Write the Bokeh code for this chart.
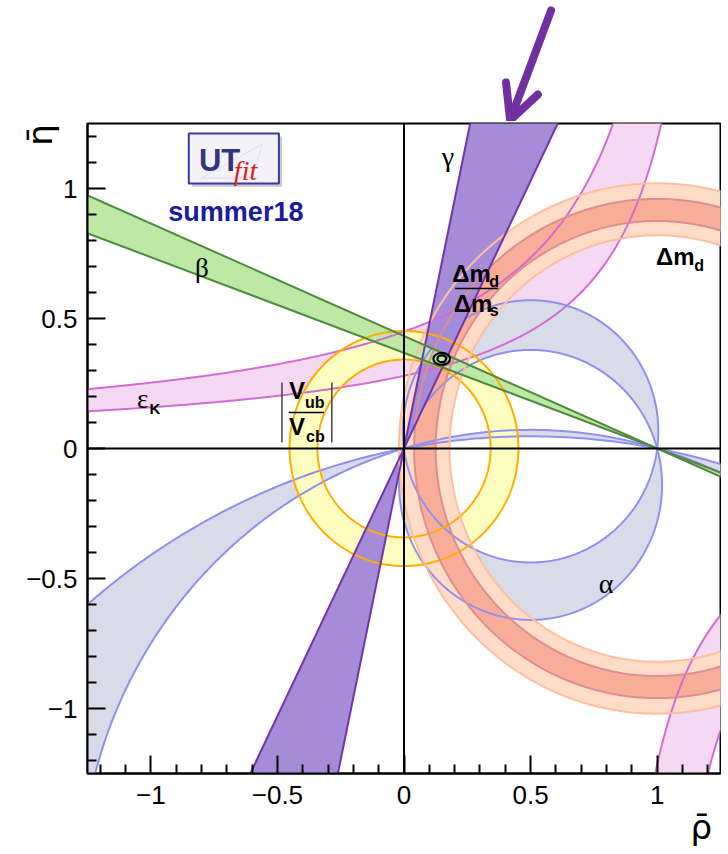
import numpy as np
from bokeh.plotting import figure
from bokeh.layouts import column
from bokeh.models import Range1d, FixedTicker, Span, Label, Arrow, OpenHead
from bokeh.embed import file_html
from bokeh.resources import INLINE

# ---------------- data ----------------
tick_values = [-1.0, -0.5, 0.0, 0.5, 1.0]
tick_labels = ["\u22121", "\u22120.5", "0", "0.5", "1"]
minor_tick_values = [-1.2, -1.1, -0.9, -0.8, -0.7, -0.6, -0.4, -0.3, -0.2, -0.1,
                     0.1, 0.2, 0.3, 0.4, 0.6, 0.7, 0.8, 0.9, 1.1, 1.2]

vub_radii = [0.342, 0.452]            # |Vub/Vcb| annulus around (0,0)
dmd_radii = [0.82, 1.02]              # Delta m_d annulus around (1,0)
dms_radii = [0.875, 0.96]             # Delta m_d / Delta m_s annulus around (1,0)
gamma_deg = [64.1, 78.2]              # gamma band (angle at origin)
beta_deg = [20.2, 23.4]               # beta band (angle at (1,0))
alpha_centres = [[0.066, -0.14], [-1.708, -2.644]]   # eta of circle centres through (0,0),(1,0)
epsK_upper = [[0.58, 1.29], [0.366, 1.309]]          # eta = B/(P - rho)
epsK_lower = [[0.34, 0.72], [0.409, 0.873]]          # eta = -B/(rho - P)
fit_centre = [0.149, 0.345]
fit_widths = [0.066, 0.034]
fit_heights = [0.046, 0.026]

# ---------------- colours ----------------
C_EPS_F, C_EPS_L = "#f5d9f3", "#d36bd3"
C_ALP_F, C_ALP_L = "#d9dbe8", "#9090ee"
C_VUB_F, C_VUB_L = "#fdfdbf", "#ffad00"
C_DMD_F, C_DMD_L = "#fedcc8", "#ffbe9f"
C_DMS_F, C_DMS_L = "#f8ad98", "#dc8f8f"
C_GAM_F, C_GAM_L = "#a68bd9", "#7535a8"
C_BET_F, C_BET_L = "#bde8a6", "#4f8b3f"
C_ARROW = "#7030a0"

xr = Range1d(-1.25, 1.25)

# ---------------- arrow strip above the frame ----------------
top = figure(width=721, height=121, x_range=xr, y_range=Range1d(1.2577, 1.723),
             output_backend="svg", toolbar_location=None, x_axis_type=None, y_axis_type=None,
             min_border_left=87, min_border_right=1, min_border_top=0, min_border_bottom=0)
top.grid.visible = False
top.outline_line_color = None
top.add_layout(Arrow(end=OpenHead(size=34, line_color=C_ARROW, line_width=8, line_cap="round"),
                     x_start=0.581, y_start=1.685, x_end=0.419, y_end=1.262,
                     line_color=C_ARROW, line_width=8, line_cap="round"))

# ---------------- main plot ----------------
p = figure(width=721, height=731, x_range=xr, y_range=Range1d(-1.25, 1.25),
           output_backend="svg", toolbar_location=None,
           min_border_left=87, min_border_right=1, min_border_top=2, min_border_bottom=79)
p.grid.visible = False
p.outline_line_color = "black"
p.outline_line_width = 2
p.background_fill_color = "white"
p.border_fill_color = "white"

for ax in (p.xaxis[0], p.yaxis[0]):
    ax.ticker = FixedTicker(ticks=tick_values, minor_ticks=minor_tick_values)
    ax.major_label_overrides = {v: s for v, s in zip(tick_values, tick_labels)}
    ax.major_tick_in = 18
    ax.major_tick_out = 0
    ax.minor_tick_in = 9
    ax.minor_tick_out = 0
    ax.major_tick_line_width = 2
    ax.minor_tick_line_width = 2
    ax.axis_line_width = 2
    ax.major_label_text_font = "Liberation Sans"
    ax.major_label_text_font_size = "26px"
    ax.major_label_text_color = "black"
    ax.axis_label_text_font = "DejaVu Sans"
    ax.axis_label_text_font_size = "34px"
    ax.axis_label_text_font_style = "normal"
    ax.axis_label_text_color = "black"
p.xaxis.major_label_standoff = 12
p.yaxis.major_label_standoff = 10

# axis titles: centred labels, pushed to the axis ends with non-breaking spaces
NB = "\u00a0"
p.xaxis.axis_label = NB * 55 + "\u03c1\u0304"
p.xaxis.axis_label_standoff = 0
p.yaxis.axis_label = NB * 58 + "\u03b7\u0304"
p.yaxis.axis_label_standoff = -37

N = 720
t = np.linspace(0, 2 * np.pi, N)

def ring(cx, cy, r):
    return cx + r * np.cos(t), cy + r * np.sin(t)

# ---- eps_K ----
rho_o = np.linspace(-1.4, epsK_upper[0][1] - epsK_upper[0][0] / 1.4, 400)
eta_o = epsK_upper[0][0] / (epsK_upper[0][1] - rho_o)
rho_i = np.linspace(-1.4, epsK_upper[1][1] - epsK_upper[1][0] / 1.4, 400)
eta_i = epsK_upper[1][0] / (epsK_upper[1][1] - rho_i)
rho_l1 = np.linspace(epsK_lower[0][1] + epsK_lower[0][0] / 1.4, 1.4, 300)
eta_l1 = -epsK_lower[0][0] / (rho_l1 - epsK_lower[0][1])
rho_l2 = np.linspace(epsK_lower[1][1] + epsK_lower[1][0] / 1.4, 1.4, 300)
eta_l2 = -epsK_lower[1][0] / (rho_l2 - epsK_lower[1][1])
p.patch(np.concatenate([rho_o, rho_i[::-1]]), np.concatenate([eta_o, eta_i[::-1]]),
        fill_color=C_EPS_F, line_color=None)
p.patch(np.concatenate([rho_l1, rho_l2[::-1]]), np.concatenate([eta_l1, eta_l2[::-1]]),
        fill_color=C_EPS_F, line_color=None)

# ---- alpha ----
def alpha_arc(c, upper, n=800):
    r = np.hypot(0.5, c)
    t0 = np.arctan2(-c, -0.5)
    t1 = np.arctan2(-c, 0.5)
    if upper:
        if t0 < t1:
            t0 += 2 * np.pi
        tt = np.linspace(t1, t0, n)
    else:
        if t1 < t0:
            t1 += 2 * np.pi
        tt = np.linspace(t0, t1, n)
    return 0.5 + r * np.cos(tt), c + r * np.sin(tt)

for ca, cb in alpha_centres:
    for up in (True, False):
        xa, ya = alpha_arc(ca, up)
        xb, yb = alpha_arc(cb, up)
        p.patch(np.concatenate([xa, xb[::-1]]), np.concatenate([ya, yb[::-1]]),
                fill_color=C_ALP_F, line_color=None)

# ---- annuli ----
def annulus(cx, cy, radii, fill):
    xo, yo = ring(cx, cy, radii[1])
    xi, yi = ring(cx, cy, radii[0])
    p.multi_polygons(xs=[[[list(xo), list(xi)]]], ys=[[[list(yo), list(yi)]]],
                     fill_color=fill, line_color=None)

annulus(0, 0, vub_radii, C_VUB_F)
annulus(1, 0, dmd_radii, C_DMD_F)
annulus(1, 0, dms_radii, C_DMS_F)

# ---- gamma ----
R = 4.0
g = np.radians(gamma_deg)
p.patches([[0, R * np.cos(g[0]), R * np.cos(g[1])], [0, -R * np.cos(g[0]), -R * np.cos(g[1])]],
          [[0, R * np.sin(g[0]), R * np.sin(g[1])], [0, -R * np.sin(g[0]), -R * np.sin(g[1])]],
          fill_color=C_GAM_F, line_color=None)

# ---- beta ----
b = np.radians(beta_deg)
p.patches([[1, 1 - R * np.cos(b[0]), 1 - R * np.cos(b[1])], [1, 1 + R * np.cos(b[0]), 1 + R * np.cos(b[1])]],
          [[0, R * np.sin(b[0]), R * np.sin(b[1])], [0, -R * np.sin(b[0]), -R * np.sin(b[1])]],
          fill_color=C_BET_F, line_color=None)

# ---------------- boundary lines ----------------
LW = 2
for xs_, ys_ in ((rho_o, eta_o), (rho_i, eta_i), (rho_l1, eta_l1), (rho_l2, eta_l2)):
    p.line(xs_, ys_, line_color=C_EPS_L, line_width=LW)
for pair in alpha_centres:
    for c in pair:
        xx, yy = ring(0.5, c, np.hypot(0.5, c))
        p.line(xx, yy, line_color=C_ALP_L, line_width=LW)
for r in vub_radii:
    xx, yy = ring(0, 0, r)
    p.line(xx, yy, line_color=C_VUB_L, line_width=LW)
for r in dmd_radii:
    xx, yy = ring(1, 0, r)
    p.line(xx, yy, line_color=C_DMD_L, line_width=LW)
for r in dms_radii:
    xx, yy = ring(1, 0, r)
    p.line(xx, yy, line_color=C_DMS_L, line_width=LW)
for a in g:
    p.line([-R * np.cos(a), R * np.cos(a)], [-R * np.sin(a), R * np.sin(a)], line_color=C_GAM_L, line_width=LW)
for a in b:
    p.line([1 - R * np.cos(a), 1 + R * np.cos(a)], [R * np.sin(a), -R * np.sin(a)], line_color=C_BET_L, line_width=LW)

# axes through origin
p.add_layout(Span(location=0, dimension="width", line_color="black", line_width=2))
p.add_layout(Span(location=0, dimension="height", line_color="black", line_width=2))

# fit contours
p.ellipse(x=[fit_centre[0]] * 2, y=[fit_centre[1]] * 2, width=fit_widths, height=fit_heights,
          fill_color=None, line_color="black", line_width=2.2)

# ---------------- labels ----------------
def lab(x, y, text, font="Liberation Sans", size="24px", style="normal", color="black",
        align="center", baseline="middle", angle=0):
    p.add_layout(Label(x=x, y=y, text=text, text_font=font, text_font_size=size,
                       text_font_style=style, text_color=color, text_align=align,
                       text_baseline=baseline, angle=angle))

SERIF = "Liberation Serif"
lab(0.174, 1.122, "\u03b3", font=SERIF, size="28px")
lab(-0.798, 0.696, "\u03b2", font=SERIF, size="27px")
lab(-1.032, 0.19, "\u03b5", font=SERIF, size="27px")
lab(-0.984, 0.152, "K", size="15px", style="bold")
lab(0.798, -0.52, "\u03b1", font=SERIF, size="28px")

# Delta m_d (right)
lab(1.071, 0.737, "\u0394m", size="24px", style="bold")
lab(1.166, 0.702, "d", size="16px", style="bold")
# Delta m_d / Delta m_s
lab(0.267, 0.673, "\u0394m", size="24px", style="bold")
lab(0.356, 0.644, "d", size="16px", style="bold")
p.line([0.202, 0.372], [0.615, 0.615], line_color="black", line_width=1.5)
lab(0.273, 0.556, "\u0394m", size="24px", style="bold")
lab(0.356, 0.529, "s", size="16px", style="bold")
# |Vub / Vcb|
lab(-0.423, 0.223, "V", size="24px", style="bold")
lab(-0.352, 0.176, "ub", size="16px", style="bold")
p.line([-0.455, -0.316], [0.138, 0.138], line_color="black", line_width=1.5)
lab(-0.423, 0.085, "V", size="24px", style="bold")
lab(-0.350, 0.046, "cb", size="16px", style="bold")
p.line([-0.482, -0.482], [0.023, 0.254], line_color="#444444", line_width=1.5)
p.line([-0.285, -0.285], [0.023, 0.254], line_color="#444444", line_width=1.5)

# logo
p.quad(left=[-0.838], right=[-0.482], top=[1.200], bottom=[1.007], fill_color="#c8c8d0", line_color=None)
p.quad(left=[-0.850], right=[-0.494], top=[1.212], bottom=[1.019], fill_color="#f3f2f9",
       line_color="#3b3b9b", line_width=2)
p.line([-0.80, -0.60, -0.56, -0.80], [1.04, 1.04, 1.17, 1.04], line_color="#e6d9f2", line_width=1)
lab(-0.810, 1.108, "UT", size="31px", style="bold", color="#34347c", align="left", baseline="alphabetic")
lab(-0.672, 1.069, "fit", font=SERIF, size="28px", style="italic", color="#dd1a1a", align="left", baseline="alphabetic")
lab(-0.664, 0.908, "summer18", size="27px", style="bold", color="#1a1a9e", baseline="alphabetic")

layout = column(top, p, spacing=0)
open("out.html", "w").write(file_html(layout, INLINE))
